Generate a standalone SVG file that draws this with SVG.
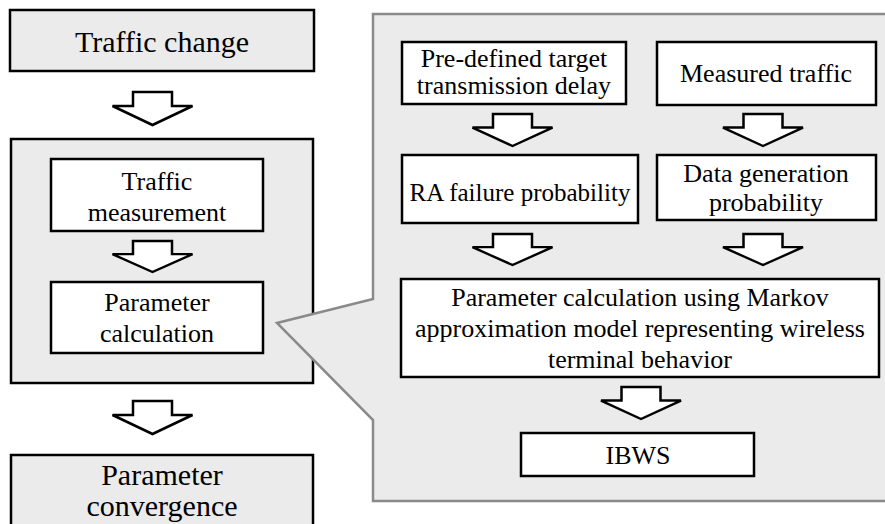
<svg xmlns="http://www.w3.org/2000/svg" width="885" height="524" viewBox="0 0 885 524">
  <style>
    .box { fill: #ffffff; stroke: #000000; stroke-width: 2.5; }
    .gbox { fill: #ebebeb; stroke: #000000; stroke-width: 2.5; }
    .callout { fill: #ebebeb; stroke: #8a8a8a; stroke-width: 2.5; stroke-linejoin: miter; }
    .arrow { fill: #ffffff; stroke: #000000; stroke-width: 2.5; stroke-linejoin: miter; }
    text { font-family: "Liberation Serif", "Times New Roman", serif; fill: #000000; text-anchor: middle; }
    .big { font-size: 30px; }
    .mid { font-size: 26px; }
  </style>
  <defs>
    <!-- block arrow pointing down, origin at tip-centre line, top of stem at y=0 -->
    <path id="blockArrow" d="M-19.5,0 H19.5 V14 H40 L0,33 L-40,14 H-19.5 Z"/>
  </defs>

  <!-- left column -->
  <g id="traffic-change">
    <rect class="gbox" x="10" y="10" width="304" height="61"/>
    <text class="big" x="162" y="52">Traffic change</text>
  </g>

  <g id="adaptation-loop">
    <rect class="gbox" x="11" y="139" width="302" height="244"/>
  </g>

  <g id="traffic-measurement">
    <rect class="box" x="51" y="159" width="212" height="72"/>
    <text class="mid" x="157" y="190">Traffic</text>
    <text class="mid" x="157" y="221">measurement</text>
  </g>

  <g id="parameter-calculation">
    <rect class="box" x="51" y="282" width="212" height="71"/>
    <text class="mid" x="157" y="311">Parameter</text>
    <text class="mid" x="157" y="342">calculation</text>
  </g>

  <g id="parameter-convergence">
    <rect class="gbox" x="11" y="455" width="302" height="80"/>
    <text class="big" x="162" y="485">Parameter</text>
    <text class="big" x="162" y="516">convergence</text>
  </g>

  <!-- detail panel with pointer toward the calculation step -->
  <g id="detail-panel">
    <path class="callout" d="M373,14 H890 V501 H373 V420 L277,323 L373,299 Z"/>
  </g>

  <g id="target-delay">
    <rect class="box" x="402" y="42" width="224" height="62"/>
    <text class="mid" x="514" y="67">Pre-defined target</text>
    <text class="mid" x="514" y="94">transmission delay</text>
  </g>

  <g id="measured-traffic">
    <rect class="box" x="657" y="42" width="219" height="63"/>
    <text class="mid" x="766" y="82">Measured traffic</text>
  </g>

  <g id="ra-failure">
    <rect class="box" x="402" y="155" width="236" height="68"/>
    <text class="mid" x="520" y="201" style="font-size:25px">RA failure probability</text>
  </g>

  <g id="data-generation">
    <rect class="box" x="657" y="155" width="219" height="65"/>
    <text class="mid" x="766" y="182">Data generation</text>
    <text class="mid" x="766" y="211">probability</text>
  </g>

  <g id="markov-calculation">
    <rect class="box" x="401" y="279" width="478" height="98"/>
    <text class="mid" x="640" y="306">Parameter calculation using Markov</text>
    <text class="mid" x="640" y="337">approximation model representing wireless</text>
    <text class="mid" x="640" y="368">terminal behavior</text>
  </g>

  <g id="ibws">
    <rect class="box" x="521" y="433" width="233" height="43"/>
    <text class="mid" x="638" y="464">IBWS</text>
  </g>

  <!-- flow arrows -->
  <g id="connectors">
    <use href="#blockArrow" class="arrow" transform="translate(152.5,92)"/>
    <use href="#blockArrow" class="arrow" transform="translate(152.5,241) scale(1,0.94)"/>
    <use href="#blockArrow" class="arrow" transform="translate(152.5,401)"/>
    <use href="#blockArrow" class="arrow" transform="translate(512.5,114) scale(1,0.97)"/>
    <use href="#blockArrow" class="arrow" transform="translate(763,114) scale(1,0.97)"/>
    <use href="#blockArrow" class="arrow" transform="translate(512.5,234) scale(1,0.94)"/>
    <use href="#blockArrow" class="arrow" transform="translate(763,234) scale(1,0.94)"/>
    <use href="#blockArrow" class="arrow" transform="translate(641,387) scale(1,0.97)"/>
  </g>
</svg>
